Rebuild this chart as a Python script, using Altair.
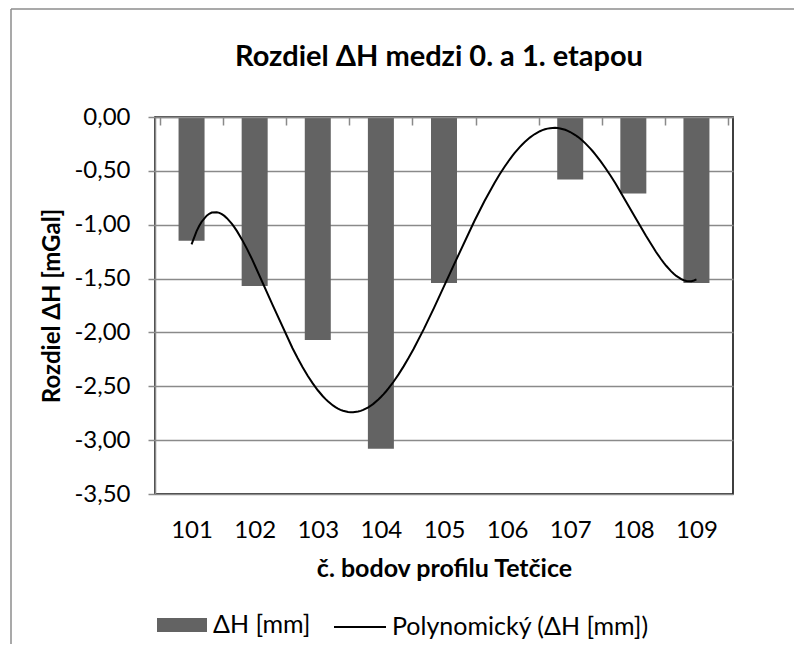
import altair as alt
import pandas as pd

# ---- data ----
points = [101, 102, 103, 104, 105, 106, 107, 108, 109]
dh_mm = [-1.15, -1.57, -2.07, -3.08, -1.54, 0.0, -0.58, -0.71, -1.54]
y_ticks = [0.0, -0.5, -1.0, -1.5, -2.0, -2.5, -3.0, -3.5]
band_edges = [100.5, 101.5, 102.5, 103.5, 104.5, 105.5, 106.5, 107.5, 108.5, 109.5]

BAR = "#636363"
GRID = "#8a8a8a"
FONT = "Lato"
W, H = 578, 377

df = pd.DataFrame({"nr": points, "dh": dh_mm})
base = alt.Chart(df)

xscale = alt.Scale(domain=[100.5, 109.5], nice=False, zero=False)
yscale = alt.Scale(domain=[-3.5, 0], nice=False, zero=False)

label_expr = "replace(replace(format(datum.value, '.2f'), '.', ','), '\u2212', '-')"

bars = base.transform_calculate(series="'ΔH [mm]'").mark_bar(size=26).encode(
    x=alt.X("nr:Q", scale=xscale,
            axis=alt.Axis(orient="bottom", values=points, format="d", domain=False,
                          ticks=False, tickSize=0, grid=False, labelFontSize=24, labelFont=FONT,
                          labelColor="black", labelPadding=24,
                          title="č. bodov profilu Tetčice", titleFont=FONT, titleFontSize=25,
                          titleFontWeight="bold", titleColor="black", titlePadding=14)),
    y=alt.Y("dh:Q", scale=yscale,
            axis=alt.Axis(values=y_ticks, labelExpr=label_expr, tickSize=7, tickColor=GRID,
                          tickWidth=1.5, domainColor=GRID, domainWidth=1.5, grid=True,
                          gridColor=GRID, gridWidth=1.5, labelFont=FONT, labelFontSize=24,
                          labelColor="black", labelPadding=18,
                          title="Rozdiel ΔH [mGal]", titleFont=FONT, titleFontSize=24,
                          titleFontWeight="bold", titleColor="black", titlePadding=9)),
    fill=alt.Fill("series:N",
                  scale=alt.Scale(domain=["ΔH [mm]"], range=[BAR]),
                  legend=alt.Legend(title=None, orient="none", legendX=2, legendY=483,
                                    symbolType="M-1,-0.28H1V0.28H-1Z", symbolSize=2500,
                                    symbolStrokeWidth=0, labelFont=FONT, labelFontSize=25,
                                    labelColor="black", labelOffset=6, labelLimit=0,
                                    padding=0)),
)

trend = base.transform_regression(
    "nr", "dh", method="poly", order=6, extent=[101, 109]
).transform_calculate(series="'Polynomický (ΔH [mm])'").mark_line(strokeWidth=2).encode(
    x=alt.X("nr:Q", scale=xscale,
            axis=alt.Axis(orient="bottom", offset=-H, values=band_edges, labels=False,
                          title=None, grid=False, domainColor=GRID, domainWidth=1.5,
                          tickColor=GRID, tickWidth=1.5, tickSize=8, zindex=1)),
    y=alt.Y("dh:Q", scale=yscale),
    stroke=alt.Stroke("series:N",
                      scale=alt.Scale(domain=["Polynomický (ΔH [mm])"], range=["black"]),
                      legend=alt.Legend(title=None, orient="none", legendX=178, legendY=483,
                                        symbolType="stroke", symbolSize=2704,
                                        symbolStrokeWidth=2, labelFont=FONT, labelFontSize=25,
                                        labelColor="black", labelOffset=5, labelLimit=0,
                                        padding=0)),
)

frame_df = pd.DataFrame({"k": [0]})
frame_left = alt.Chart(frame_df).mark_rule(color="#8c8c8c", strokeWidth=1.5).encode(
    x=alt.value(-144), y=alt.value(-108), y2=alt.value(H + 200))
frame_top = alt.Chart(frame_df).mark_rule(color="#8c8c8c", strokeWidth=1.5).encode(
    x=alt.value(-144), x2=alt.value(W + 120), y=alt.value(-108))

chart = alt.layer(bars, trend, frame_left, frame_top).resolve_axis(
    x="independent"
).resolve_scale(
    fill="independent", stroke="independent"
).properties(
    width=W, height=H,
    title=alt.TitleParams("Rozdiel ΔH medzi 0. a 1. etapou", font=FONT, fontSize=29,
                          fontWeight="bold", color="black", anchor="middle", frame="group",
                          offset=-64, dx=-5),
    autosize=alt.AutoSizeParams(type="none"),
    padding={"left": 147, "top": 109, "right": 61, "bottom": 150},
).configure_view(stroke="black", strokeWidth=1.5)

chart.save("out.html", embed_options={"renderer": "svg", "actions": False})
